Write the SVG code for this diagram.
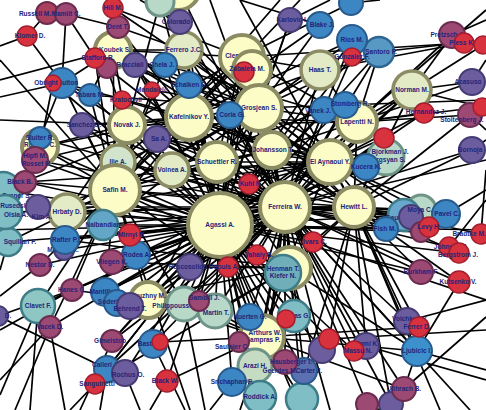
<svg xmlns="http://www.w3.org/2000/svg" width="486" height="410" viewBox="0 0 486 410">
<style>
.e path{stroke:#000;stroke-width:1.7;fill:none}
.y{fill:#fcfcc6;stroke:#8c8c64;stroke-width:4}
.g{fill:#e2eac6;stroke:#8c8c64;stroke-width:3.5}
.t{fill:#b8d8c8;stroke:#6e9488;stroke-width:3}
.c{fill:#80bec6;stroke:#3e7c88;stroke-width:2.5}
.b{fill:#3c86c4;stroke:#285a8c;stroke-width:2}
.p{fill:#6c5e9e;stroke:#463c74;stroke-width:2}
.m{fill:#9c4a74;stroke:#6c2c50;stroke-width:2}
.r{fill:#d8323e;stroke:#a21e2e;stroke-width:1.5}
text{font-family:"Liberation Sans",Arial,sans-serif;font-weight:bold;font-size:6.5px;fill:#24247a;text-anchor:middle}
</style>
<rect width="486" height="410" fill="#fff"/>
<g id="connectors" class="e">
<path d="M220 225L285 207"/><path d="M220 225L115 190"/><path d="M220 225L189 117"/><path d="M220 225L259 108"/><path d="M220 225L217 162"/><path d="M220 225L272 150"/><path d="M220 225L330 162"/><path d="M220 225L354 207"/><path d="M220 225L127 125"/><path d="M220 225L242 57"/><path d="M220 225L357 122"/><path d="M220 225L290 268"/><path d="M220 225L262 337"/><path d="M220 225L148 300"/><path d="M220 225L184 304"/><path d="M220 225L215 311"/>
<path d="M285 207L115 190"/><path d="M285 207L189 117"/><path d="M285 207L259 108"/><path d="M285 207L217 162"/><path d="M285 207L272 150"/><path d="M285 207L330 162"/><path d="M285 207L354 207"/><path d="M285 207L127 125"/><path d="M285 207L242 57"/><path d="M285 207L357 122"/><path d="M285 207L290 268"/><path d="M285 207L262 337"/>
<path d="M115 190L189 117"/><path d="M115 190L259 108"/><path d="M115 190L217 162"/><path d="M115 190L272 150"/><path d="M115 190L330 162"/><path d="M115 190L354 207"/><path d="M115 190L127 125"/><path d="M115 190L242 57"/><path d="M115 190L113 50"/><path d="M115 190L67 212"/><path d="M115 190L148 300"/>
<path d="M189 117L259 108"/><path d="M189 117L217 162"/><path d="M189 117L272 150"/><path d="M189 117L330 162"/><path d="M189 117L127 125"/><path d="M189 117L242 57"/><path d="M189 117L113 50"/><path d="M189 117L357 122"/><path d="M189 117L354 207"/>
<path d="M259 108L217 162"/><path d="M259 108L272 150"/><path d="M259 108L330 162"/><path d="M259 108L354 207"/><path d="M259 108L127 125"/><path d="M259 108L242 57"/><path d="M259 108L357 122"/><path d="M259 108L113 50"/>
<path d="M242 57L217 162"/><path d="M242 57L272 150"/><path d="M242 57L330 162"/><path d="M242 57L127 125"/><path d="M242 57L113 50"/><path d="M242 57L357 122"/><path d="M242 57L320 70"/>
<path d="M330 162L272 150"/><path d="M330 162L217 162"/><path d="M330 162L354 207"/><path d="M330 162L357 122"/><path d="M330 162L412 90"/>
<path d="M272 150L217 162"/><path d="M272 150L354 207"/><path d="M272 150L357 122"/><path d="M354 207L357 122"/><path d="M354 207L127 125"/><path d="M354 207L290 268"/><path d="M127 125L113 50"/><path d="M127 125L217 162"/><path d="M127 125L357 122"/><path d="M357 122L320 70"/><path d="M357 122L412 90"/><path d="M290 268L262 337"/><path d="M290 268L217 162"/>
<path d="M47 13L66 14"/><path d="M47 13L27 36"/><path d="M66 14L118 27"/><path d="M66 14L95 58"/><path d="M66 14L62 83"/><path d="M27 36L62 83"/><path d="M27 36L0 46"/><path d="M62 83L0 97"/><path d="M62 83L40 138"/><path d="M62 83L90 95"/><path d="M62 83L113 50"/><path d="M62 83L127 125"/><path d="M62 83L115 190"/><path d="M62 83L189 117"/><path d="M53 83L40 147"/><path d="M53 83L220 225"/>
<path d="M113 8L113 50"/><path d="M113 8L242 57"/><path d="M113 8L259 108"/><path d="M118 27L113 50"/><path d="M118 27L184 50"/><path d="M118 27L189 117"/><path d="M118 27L220 225"/><path d="M113 50L184 50"/><path d="M113 50L90 95"/><path d="M113 50L189 85"/><path d="M95 58L115 190"/><path d="M95 58L259 108"/><path d="M107 68L127 125"/><path d="M107 68L285 207"/>
<path d="M135 65L220 225"/><path d="M135 65L330 162"/><path d="M135 65L354 207"/><path d="M165 65L357 122"/><path d="M165 65L220 225"/><path d="M165 65L115 190"/><path d="M90 95L115 190"/><path d="M90 95L259 108"/><path d="M90 95L220 225"/><path d="M122 100L220 225"/><path d="M122 100L285 207"/><path d="M122 100L330 162"/><path d="M152 90L259 108"/><path d="M152 90L115 190"/>
<path d="M82 125L115 190"/><path d="M82 125L220 225"/><path d="M82 125L189 117"/><path d="M82 125L285 207"/><path d="M157 139L285 207"/><path d="M157 139L330 162"/><path d="M40 147L115 190"/><path d="M40 147L220 225"/><path d="M40 147L127 125"/><path d="M40 147L189 117"/><path d="M40 138L285 207"/>
<path d="M35 160L220 225"/><path d="M35 160L285 207"/><path d="M35 160L259 108"/><path d="M25 182L220 225"/><path d="M25 182L330 162"/><path d="M25 182L115 190"/><path d="M3 190L220 225"/><path d="M3 190L189 117"/><path d="M5 212L285 207"/><path d="M38 207L115 190"/><path d="M38 207L220 225"/><path d="M38 207L354 207"/>
<path d="M67 212L220 225"/><path d="M67 212L285 207"/><path d="M67 212L127 125"/><path d="M67 212L189 117"/><path d="M67 212L330 162"/><path d="M118 162L285 207"/><path d="M118 162L259 108"/><path d="M118 162L242 57"/><path d="M172 170L285 207"/><path d="M172 170L330 162"/><path d="M172 170L354 207"/><path d="M172 170L272 150"/>
<path d="M8 242L220 225"/><path d="M8 242L115 190"/><path d="M8 242L0 270"/><path d="M103 225L220 225"/><path d="M103 225L285 207"/><path d="M103 225L189 117"/><path d="M103 225L259 108"/><path d="M65 240L220 225"/><path d="M65 240L285 207"/><path d="M65 240L115 190"/><path d="M65 240L290 268"/><path d="M64 250L220 225"/><path d="M130 235L285 207"/><path d="M130 235L220 225"/>
<path d="M136 255L220 225"/><path d="M136 255L330 162"/><path d="M136 255L285 207"/><path d="M112 262L285 207"/><path d="M112 262L220 225"/><path d="M112 262L290 268"/><path d="M40 265L115 190"/><path d="M40 265L220 225"/><path d="M40 265L0 296"/>
<path d="M72 290L220 225"/><path d="M72 290L285 207"/><path d="M72 290L148 300"/><path d="M72 290L115 190"/><path d="M38 306L220 225"/><path d="M38 306L115 190"/><path d="M38 306L0 395"/><path d="M38 306L30 410"/><path d="M38 306L72 290"/><path d="M-2 316L107 369"/><path d="M-2 316L72 290"/>
<path d="M50 327L115 190"/><path d="M50 327L220 225"/><path d="M50 327L0 380"/><path d="M50 327L15 410"/><path d="M50 327L65 410"/><path d="M105 292L220 225"/><path d="M105 292L285 207"/><path d="M105 292L115 190"/><path d="M117 303L220 225"/><path d="M117 303L290 268"/><path d="M130 306L285 207"/><path d="M130 306L220 225"/>
<path d="M148 300L285 207"/><path d="M148 300L259 108"/><path d="M148 300L262 337"/><path d="M112 341L220 225"/><path d="M112 341L80 410"/><path d="M112 341L285 207"/><path d="M112 341L148 300"/><path d="M107 369L220 225"/><path d="M107 369L285 207"/><path d="M107 369L100 410"/><path d="M125 373L220 225"/><path d="M125 373L140 410"/>
<path d="M95 384L70 410"/><path d="M95 384L220 225"/><path d="M95 384L290 268"/><path d="M153 344L220 225"/><path d="M153 344L285 207"/><path d="M153 344L185 410"/><path d="M160 342L262 337"/><path d="M167 381L220 225"/><path d="M167 381L150 410"/><path d="M167 381L262 337"/>
<path d="M190 267L220 225"/><path d="M190 267L285 207"/><path d="M190 267L290 268"/><path d="M184 304L285 207"/><path d="M184 304L115 190"/><path d="M184 304L262 337"/><path d="M184 304L205 410"/><path d="M199 301L220 225"/><path d="M199 301L285 207"/><path d="M215 311L285 207"/><path d="M215 311L262 337"/><path d="M215 311L290 268"/>
<path d="M228 267L285 207"/><path d="M228 267L262 337"/><path d="M228 267L115 190"/><path d="M257 255L220 225"/><path d="M257 255L285 207"/><path d="M257 255L115 190"/><path d="M249 184L220 225"/><path d="M249 184L285 207"/><path d="M249 184L217 162"/><path d="M249 184L330 162"/>
<path d="M283 273L220 225"/><path d="M283 273L262 337"/><path d="M283 273L285 207"/><path d="M283 273L330 162"/><path d="M313 242L220 225"/><path d="M313 242L285 207"/><path d="M313 242L354 207"/><path d="M313 242L486 300"/><path d="M250 317L262 337"/><path d="M250 317L220 225"/><path d="M250 317L285 207"/><path d="M239 342L262 337"/><path d="M239 342L220 225"/>
<path d="M262 337L255 366"/><path d="M262 337L260 397"/><path d="M262 337L232 382"/><path d="M262 337L285 362"/><path d="M255 366L285 207"/><path d="M255 366L220 225"/><path d="M255 366L240 410"/><path d="M232 382L220 225"/><path d="M232 382L210 410"/><path d="M260 397L285 207"/><path d="M260 397L220 225"/><path d="M302 399L262 337"/><path d="M302 399L285 207"/>
<path d="M294 316L285 207"/><path d="M294 316L220 225"/><path d="M294 316L262 337"/><path d="M286 319L220 225"/><path d="M285 362L285 207"/><path d="M285 362L220 225"/><path d="M304 371L285 207"/><path d="M304 371L220 225"/><path d="M304 371L354 207"/><path d="M329 339L220 225"/><path d="M329 339L354 207"/><path d="M329 339L486 330"/><path d="M322 350L220 225"/><path d="M322 350L285 207"/>
<path d="M354 351L285 207"/><path d="M354 351L220 225"/><path d="M366 346L285 207"/><path d="M366 346L354 207"/><path d="M366 346L486 380"/><path d="M407 321L285 207"/><path d="M407 321L354 207"/><path d="M407 321L486 300"/><path d="M419 327L262 337"/><path d="M419 327L354 207"/>
<path d="M417 351L285 207"/><path d="M417 351L220 225"/><path d="M417 351L486 370"/><path d="M417 351L354 207"/><path d="M417 351L262 337"/><path d="M404 389L417 351"/><path d="M404 389L486 317"/><path d="M404 389L262 337"/><path d="M404 389L285 207"/><path d="M367 404L285 207"/><path d="M367 404L380 410"/><path d="M391 404L354 207"/><path d="M391 404L285 207"/>
<path d="M459 282L285 207"/><path d="M459 282L354 207"/><path d="M459 282L417 351"/><path d="M421 272L285 207"/><path d="M421 272L354 207"/><path d="M421 272L220 225"/><path d="M449 247L285 207"/><path d="M449 247L486 200"/><path d="M459 253L354 207"/><path d="M459 253L220 225"/><path d="M481 234L354 207"/><path d="M481 234L486 170"/><path d="M429 227L285 207"/><path d="M429 227L330 162"/><path d="M421 232L220 225"/><path d="M421 232L285 207"/>
<path d="M386 229L220 225"/><path d="M386 229L285 207"/><path d="M386 229L354 207"/><path d="M386 229L330 162"/><path d="M404 215L220 225"/><path d="M404 215L285 207"/><path d="M404 215L354 207"/><path d="M421 210L354 207"/><path d="M421 210L285 207"/><path d="M421 210L330 162"/><path d="M411 217L285 207"/>
<path d="M446 214L354 207"/><path d="M446 214L285 207"/><path d="M446 214L330 162"/><path d="M446 214L486 190"/><path d="M366 167L220 225"/><path d="M366 167L285 207"/><path d="M366 167L259 108"/><path d="M386 157L220 225"/><path d="M386 157L285 207"/><path d="M386 157L330 162"/><path d="M386 157L272 150"/>
<path d="M472 150L354 207"/><path d="M472 150L285 207"/><path d="M472 150L486 140"/><path d="M384 138L285 207"/><path d="M384 138L330 162"/><path d="M470 115L357 122"/><path d="M470 115L354 207"/><path d="M470 115L486 130"/><path d="M424 113L357 122"/><path d="M424 113L285 207"/><path d="M424 113L330 162"/>
<path d="M472 82L357 122"/><path d="M472 82L412 90"/><path d="M472 82L486 60"/><path d="M412 90L285 207"/><path d="M412 90L220 225"/><path d="M412 90L354 207"/><path d="M482 107L357 122"/><path d="M482 107L412 90"/><path d="M452 35L357 122"/><path d="M452 35L412 90"/><path d="M452 35L486 20"/><path d="M464 43L320 70"/><path d="M464 43L242 57"/><path d="M483 45L412 90"/>
<path d="M379 52L259 108"/><path d="M379 52L220 225"/><path d="M379 52L285 207"/><path d="M379 52L357 122"/><path d="M379 52L486 40"/><path d="M352 40L259 108"/><path d="M352 40L220 225"/><path d="M352 40L285 207"/><path d="M352 40L189 117"/><path d="M352 57L220 225"/><path d="M352 57L285 207"/>
<path d="M351 3L242 57"/><path d="M351 3L380 0"/><path d="M320 25L259 108"/><path d="M320 25L189 117"/><path d="M320 25L240 0"/><path d="M290 20L220 225"/><path d="M290 20L259 108"/><path d="M290 20L330 0"/><path d="M324 110L220 225"/><path d="M324 110L285 207"/><path d="M324 110L115 190"/><path d="M345 105L285 207"/><path d="M345 105L220 225"/>
<path d="M320 70L220 225"/><path d="M320 70L285 207"/><path d="M320 70L189 117"/><path d="M320 70L115 190"/><path d="M244 72L220 225"/><path d="M252 70L220 225"/><path d="M252 70L285 207"/><path d="M230 115L220 225"/><path d="M230 115L285 207"/><path d="M230 115L330 162"/><path d="M189 85L220 225"/><path d="M189 85L285 207"/><path d="M189 85L330 162"/>
<path d="M184 50L220 225"/><path d="M184 50L285 207"/><path d="M184 50L330 162"/><path d="M184 50L354 207"/><path d="M180 22L220 225"/><path d="M180 22L285 207"/><path d="M180 22L140 0"/><path d="M160 2L127 125"/><path d="M160 2L220 225"/><path d="M178 -12L220 225"/><path d="M178 -12L285 207"/>
<path d="M210 0L285 207"/><path d="M280 0L115 190"/><path d="M300 0L189 117"/><path d="M150 0L259 108"/><path d="M240 0L354 207"/><path d="M0 60L115 190"/><path d="M0 80L113 50"/><path d="M0 120L127 125"/><path d="M0 230L220 225"/><path d="M0 330L72 290"/>
<path d="M486 100L259 108"/><path d="M486 160L285 207"/><path d="M486 10L357 122"/><path d="M486 230L220 225"/><path d="M260 410L285 207"/><path d="M300 410L220 225"/><path d="M330 410L290 268"/><path d="M440 410L354 207"/><path d="M470 410L285 207"/><path d="M190 410L115 190"/>
</g>
<g id="n-topcut"><circle class="y" cx="178" cy="-12" r="22"/></g>
<g id="n-koubek"><circle class="y" cx="113" cy="50" r="18"/><text x="115" y="52">Koubek S.</text></g>
<g id="n-clement"><circle class="y" cx="242" cy="57" r="22"/><text x="242" y="58">Clement A.</text></g>
<g id="n-clement2"><circle class="y" cx="252" cy="70" r="19"/></g>
<g id="n-ferrero"><circle class="g" cx="184" cy="50" r="18"/><text x="184" y="52">Ferrero J.C.</text></g>
<g id="n-haas"><circle class="g" cx="320" cy="70" r="19"/><text x="320" y="72">Haas T.</text></g>
<g id="n-norman"><circle class="g" cx="412" cy="90" r="19"/><text x="412" y="92">Norman M.</text></g>
<g id="n-lapentti"><circle class="y" cx="357" cy="122" r="20"/><text x="357" y="124">Lapentti N.</text></g>
<g id="n-novak"><circle class="y" cx="127" cy="125" r="18"/><text x="127" y="127">Novak J.</text></g>
<g id="n-kafelnikov"><circle class="y" cx="189" cy="117" r="23"/><text x="189" y="119">Kafelnikov Y.</text></g>
<g id="n-grosjean"><circle class="y" cx="259" cy="108" r="23"/><text x="259" y="110">Grosjean S.</text></g>
<g id="n-johansson"><circle class="y" cx="272" cy="150" r="18"/><text x="273" y="152">Johansson T.</text></g>
<g id="n-schuettler"><circle class="y" cx="217" cy="162" r="20"/><text x="217" y="164">Schuettler R.</text></g>
<g id="n-elaynaoui"><circle class="y" cx="330" cy="162" r="22"/><text x="330" y="164">El Aynaoui Y.</text></g>
<g id="n-ilie"><circle class="g" cx="118" cy="162" r="17" style="fill:#d2e4cc"/><text x="118" y="164">Ilie A.</text></g>
<g id="n-voinea"><circle class="g" cx="172" cy="170" r="17"/><text x="172" y="172">Voinea A.</text></g>
<g id="n-rochus"><circle class="y" cx="40" cy="147" r="18"/><text x="40" y="147">Rochus C.</text></g>
<g id="n-safin"><circle class="y" cx="115" cy="190" r="25"/><text x="115" y="192">Safin M.</text></g>
<g id="n-hewitt"><circle class="y" cx="354" cy="207" r="20"/><text x="354" y="209">Hewitt L.</text></g>
<g id="n-ferreira"><circle class="y" cx="285" cy="207" r="25"/><text x="285" y="209">Ferreira W.</text></g>
<g id="n-agassi"><circle class="y" cx="220" cy="225" r="32"/><text x="220" y="227">Agassi A.</text></g>
<g id="n-hrbaty"><circle class="g" cx="67" cy="212" r="18"/><text x="67" y="214">Hrbaty D.</text></g>
<g id="n-henman-y"><circle class="y" cx="290" cy="268" r="21"/></g>
<g id="n-youzhny"><circle class="y" cx="148" cy="300" r="18"/><text x="148" y="298">Youzhny M.</text></g>
<g id="n-arthurs"><circle class="y" cx="262" cy="337" r="22"/><text x="265" y="335">Arthurs W.</text><text x="263" y="342">Sampras P.</text></g>
<g id="n-topteal"><circle class="t" cx="160" cy="2" r="14"/></g>
<g id="n-bjorkman"><circle class="t" cx="386" cy="157" r="18"/><text x="390" y="154">Bjorkman J.</text><text x="387" y="162">Sargsyan S.</text></g>
<g id="n-philippoussis"><circle class="t" cx="184" cy="304" r="17"/><text x="178" y="308">Philippoussis M.</text></g>
<g id="n-martin"><circle class="t" cx="215" cy="311" r="17"/><text x="216" y="315">Martin T.</text></g>
<g id="n-arazi"><circle class="t" cx="255" cy="366" r="17" style="fill:#c6dcc2"/><text x="255" y="368">Arazi H.</text></g>
<g id="n-moyateal"><circle class="t" cx="421" cy="210" r="15"/></g>
<g id="n-clavet"><circle class="c" cx="38" cy="306" r="17" style="fill:#8ec6c4"/><text x="38" y="308">Clavet F.</text></g>
<g id="n-henman"><circle class="c" cx="283" cy="273" r="18" style="fill:#70aeba"/><text x="283" y="271">Henman T.</text><text x="283" y="278">Kiefer N.</text></g>
<g id="n-roddick"><circle class="c" cx="260" cy="397" r="16"/><text x="260" y="399">Roddick A.</text></g>
<g id="n-n302"><circle class="c" cx="302" cy="399" r="16"/></g>
<g id="n-squillari"><circle class="c" cx="8" cy="242" r="14"/><text x="20" y="244">Squillari F.</text></g>
<g id="n-tealA"><circle class="c" cx="3" cy="190" r="18"/><text x="17" y="198">Draper S.</text></g>
<g id="n-tealB"><circle class="c" cx="5" cy="212" r="17"/><text x="19" y="208">Rusedski G.</text><text x="16" y="217">Olsia A.</text></g>
<g id="n-nalbandian"><circle class="c" cx="103" cy="225" r="15" style="fill:#64a6c8"/><text x="103" y="227">Nalbandian</text></g>
<g id="n-t4"><circle class="c" cx="294" cy="316" r="16"/><text x="296" y="318">Canas G.</text></g>
<g id="n-gaudio"><circle class="c" cx="404" cy="215" r="16" style="fill:#68a8cc"/><text x="401" y="220">Gaudio G.</text></g>
<g id="n-santoro"><circle class="c" cx="379" cy="52" r="15" style="fill:#5898c4;stroke:#2e6690"/><text x="381" y="54">Santoro F.</text></g>
<g id="n-sluiter"><circle class="b" cx="40" cy="138" r="11"/><text x="40" y="140">Sluiter R.</text></g>
<g id="n-sulton"><circle class="b" cx="62" cy="83" r="15"/><text x="68" y="85">Sulton</text></g>
<g id="n-tabara"><circle class="b" cx="90" cy="95" r="11"/><text x="90" y="97">Tabara M.</text></g>
<g id="n-chela"><circle class="b" cx="165" cy="65" r="12"/><text x="162" y="67">Chela J.</text></g>
<g id="n-schalken"><circle class="b" cx="189" cy="85" r="13"/><text x="189" y="87">Schalken S.</text></g>
<g id="n-coria"><circle class="b" cx="230" cy="115" r="13"/><text x="232" y="117">Coria G.</text></g>
<g id="n-blake"><circle class="b" cx="320" cy="25" r="13"/><text x="322" y="27">Blake J.</text></g>
<g id="n-bt"><circle class="b" cx="351" cy="3" r="12"/></g>
<g id="n-rios"><circle class="b" cx="352" cy="40" r="15"/><text x="352" y="42">Rios M.</text></g>
<g id="n-vanek"><circle class="b" cx="324" cy="110" r="13"/><text x="318" y="113">Vanek J.</text></g>
<g id="n-stomberg"><circle class="b" cx="345" cy="105" r="13"/><text x="350" y="106">Stomberg R.</text></g>
<g id="n-kucera"><circle class="b" cx="366" cy="167" r="13"/><text x="366" y="169">Kucera K.</text></g>
<g id="n-fish"><circle class="b" cx="386" cy="229" r="12"/><text x="385" y="231">Fish M.</text></g>
<g id="n-pavel"><circle class="b" cx="446" cy="214" r="14"/><text x="447" y="216">Pavel C.</text></g>
<g id="n-ljubicic"><circle class="b" cx="417" cy="351" r="15" style="fill:#3c90cc"/><text x="417" y="353">Ljubicic I.</text></g>
<g id="n-malisse"><circle class="p" cx="64" cy="250" r="10"/><text x="63" y="252">Malisse X.</text></g>
<g id="n-rafter"><circle class="b" cx="65" cy="240" r="14"/><text x="65" y="242">Rafter P.</text></g>
<g id="n-rodea"><circle class="b" cx="136" cy="255" r="14"/><text x="137" y="257">Rodea A.</text></g>
<g id="n-mantilla"><circle class="b" cx="105" cy="292" r="14"/><text x="105" y="294">Mantilla F.</text></g>
<g id="n-soderling"><circle class="b" cx="117" cy="303" r="13"/><text x="117" y="304">Soderling R.</text></g>
<g id="n-kuerten"><circle class="b" cx="250" cy="317" r="13"/><text x="250" y="319">Kuerten G.</text></g>
<g id="n-srichaphan"><circle class="b" cx="232" cy="382" r="14"/><text x="232" y="384">Srichaphan P.</text></g>
<g id="n-bastl"><circle class="b" cx="153" cy="344" r="14"/><text x="150" y="346">Bastl G.</text></g>
<g id="n-calleri"><circle class="b" cx="107" cy="369" r="13"/><text x="106" y="367">Calleri A.</text></g>
<g id="n-carter"><circle class="b" cx="304" cy="371" r="13" style="fill:#5a70b0"/><text x="309" y="373">Carter J.</text></g>
<g id="n-colorado"><circle class="p" cx="180" cy="22" r="12"/><text x="176" y="24">Colorado</text></g>
<g id="n-karlovic"><circle class="p" cx="290" cy="20" r="12"/><text x="292" y="22">Karlovic I.</text></g>
<g id="n-bracciali"><circle class="p" cx="135" cy="65" r="12"/><text x="130" y="67">Bracciali</text></g>
<g id="n-sanchez"><circle class="p" cx="82" cy="125" r="12"/><text x="84" y="127">Sanchez D.</text></g>
<g id="n-sa"><circle class="p" cx="157" cy="139" r="13"/><text x="159" y="141">Sa A.</text></g>
<g id="n-kim"><circle class="p" cx="38" cy="207" r="12"/><text x="42" y="219">Kim A.</text></g>
<g id="n-acasuso"><circle class="p" cx="472" cy="82" r="13"/><text x="468" y="84">Acasuso</text></g>
<g id="n-bornoja"><circle class="p" cx="472" cy="150" r="13"/><text x="470" y="152">Bornoja</text></g>
<g id="n-moya"><circle class="p" cx="411" cy="217" r="12"/><text x="420" y="212">Moya C.</text></g>
<g id="n-behrend"><circle class="p" cx="130" cy="306" r="13"/><text x="130" y="311">Behrend T.</text></g>
<g id="n-rochuso"><circle class="p" cx="125" cy="373" r="13"/><text x="128" y="377">Rochus O.</text></g>
<g id="n-pescosolido"><circle class="p" cx="190" cy="267" r="13"/><text x="188" y="269">Pescosolido</text></g>
<g id="n-volchkov"><circle class="p" cx="407" cy="321" r="13"/><text x="410" y="321">Volchkov V.</text></g>
<g id="n-alami"><circle class="p" cx="366" cy="346" r="13"/><text x="366" y="346">Alami K.</text></g>
<g id="n-n322"><circle class="p" cx="322" cy="350" r="13"/></g>
<g id="n-n391"><circle class="p" cx="391" cy="404" r="12"/></g>
<g id="n-leftedge"><circle class="p" cx="-2" cy="316" r="10"/><text x="8" y="318">D.</text></g>
<g id="n-russell"><circle class="m" cx="47" cy="13" r="11" style="fill:#a8405e"/><text x="35" y="16">Russell M.</text></g>
<g id="n-mamiit"><circle class="m" cx="66" cy="14" r="11"/><text x="66" y="16">Mamiit C.</text></g>
<g id="n-dent"><circle class="m" cx="118" cy="27" r="11"/><text x="118" y="29">Dent T.</text></g>
<g id="n-hiddenplum"><circle class="m" cx="107" cy="68" r="10"/></g>
<g id="n-hipfl"><circle class="m" cx="35" cy="160" r="13"/><text x="35" y="158">Hipfl M.</text><text x="37" y="166">Rosset M.</text></g>
<g id="n-black"><circle class="m" cx="25" cy="182" r="11"/><text x="20" y="184">Black B.</text></g>
<g id="n-vliegen"><circle class="m" cx="112" cy="262" r="12"/><text x="112" y="264">Vliegen K.</text></g>
<g id="n-nestor"><circle class="m" cx="40" cy="265" r="11"/><text x="40" y="267">Nestor D.</text></g>
<g id="n-hanes"><circle class="m" cx="72" cy="290" r="11"/><text x="72" y="292">Hanes C.</text></g>
<g id="n-vacek"><circle class="m" cx="50" cy="327" r="11"/><text x="50" y="329">Vacek D.</text></g>
<g id="n-gimelstob"><circle class="m" cx="112" cy="341" r="11"/><text x="110" y="343">Gimelstob</text></g>
<g id="n-gambill"><circle class="m" cx="199" cy="301" r="10"/><text x="204" y="300">Gambill J.</text></g>
<g id="n-hausberger"><circle class="m" cx="285" cy="362" r="12"/><text x="291" y="364">Hausberger I.</text><text x="280" y="373">Geerdes M.</text></g>
<g id="n-burkham"><circle class="m" cx="421" cy="272" r="12"/><text x="421" y="274">Burkham F.</text></g>
<g id="n-ulihrach"><circle class="m" cx="404" cy="389" r="12"/><text x="404" y="391">Ulihrach B.</text></g>
<g id="n-n367"><circle class="m" cx="367" cy="404" r="11"/></g>
<g id="n-pretzsch"><circle class="m" cx="452" cy="35" r="13"/><text x="448" y="37">Pretzsch A.</text></g>
<g id="n-stoltenberg"><circle class="m" cx="470" cy="115" r="12"/><text x="462" y="122">Stoltenberg J.</text></g>
<g id="n-sap"><circle class="m" cx="421" cy="232" r="10"/></g>
<g id="n-saulnier"><circle class="m" cx="239" cy="342" r="10"/><text x="232" y="349">Saulnier C.</text></g>
<g id="n-hill"><circle class="r" cx="113" cy="8" r="10"/><text x="113" y="10">Hill M.</text></g>
<g id="n-klomer"><circle class="r" cx="27" cy="36" r="10"/><text x="30" y="38">Klomer D.</text></g>
<g id="n-stafford"><circle class="r" cx="95" cy="58" r="10"/><text x="98" y="60">Stafford R.</text></g>
<g id="n-obright"><circle class="r" cx="53" cy="83" r="8"/><text x="46" y="85">Obright</text></g>
<g id="n-mandalelo"><circle class="r" cx="152" cy="90" r="8"/><text x="152" y="92">Mandalelo</text></g>
<g id="n-kratochvil"><circle class="r" cx="122" cy="100" r="9"/><text x="126" y="102">Kratochvil</text></g>
<g id="n-zabaleta"><circle class="r" cx="244" cy="72" r="10"/><text x="247" y="71">Zabaleta M.</text></g>
<g id="n-gonzalez"><circle class="r" cx="352" cy="57" r="9"/><text x="352" y="59">Gonzalez F.</text></g>
<g id="n-hernandez"><circle class="r" cx="424" cy="113" r="10"/><text x="426" y="114">Hernandez J.</text></g>
<g id="n-r384"><circle class="r" cx="384" cy="138" r="10"/></g>
<g id="n-kuhl"><circle class="r" cx="249" cy="184" r="10"/><text x="251" y="186">Kuhl N.</text></g>
<g id="n-vahaly"><circle class="r" cx="257" cy="255" r="10"/><text x="259" y="257">Vahaly B.</text></g>
<g id="n-dupuis"><circle class="r" cx="228" cy="267" r="10"/><text x="224" y="269">Dupuis A.</text></g>
<g id="n-ivars"><circle class="r" cx="313" cy="242" r="10"/><text x="315" y="244">Ivars C.</text></g>
<g id="n-mirnyi"><circle class="r" cx="130" cy="235" r="11"/><text x="132" y="237">Mirnyi M.</text></g>
<g id="n-levy"><circle class="r" cx="429" cy="227" r="10"/><text x="429" y="229">Levy H.</text></g>
<g id="n-bradtke"><circle class="r" cx="481" cy="234" r="10"/><text x="469" y="236">Bradtke M.</text></g>
<g id="n-johnson"><circle class="r" cx="449" cy="247" r="10"/><text x="451" y="249">Johnson J.</text></g>
<g id="n-bergstrom"><circle class="r" cx="459" cy="253" r="10"/><text x="458" y="257">Bergstrom J.</text></g>
<g id="n-kutsenko"><circle class="r" cx="459" cy="282" r="11"/><text x="458" y="284">Kutsenko V.</text></g>
<g id="n-ferrer"><circle class="r" cx="419" cy="327" r="10"/><text x="417" y="329">Ferrer D.</text></g>
<g id="n-massu"><circle class="r" cx="354" cy="351" r="10"/><text x="358" y="353">Massu N.</text></g>
<g id="n-r329"><circle class="r" cx="329" cy="339" r="10"/></g>
<g id="n-r286"><circle class="r" cx="286" cy="319" r="9"/></g>
<g id="n-sanguinetti"><circle class="r" cx="95" cy="384" r="10"/><text x="97" y="386">Sanguinetti</text></g>
<g id="n-blackw"><circle class="r" cx="167" cy="381" r="11"/><text x="165" y="383">Black W.</text></g>
<g id="n-r158"><circle class="r" cx="160" cy="342" r="8"/></g>
<g id="n-pless"><circle class="r" cx="464" cy="43" r="10"/><text x="462" y="45">Pless K.</text></g>
<g id="n-r482"><circle class="r" cx="483" cy="45" r="9"/></g>
<g id="n-r481"><circle class="r" cx="482" cy="107" r="9"/></g>
</svg>
